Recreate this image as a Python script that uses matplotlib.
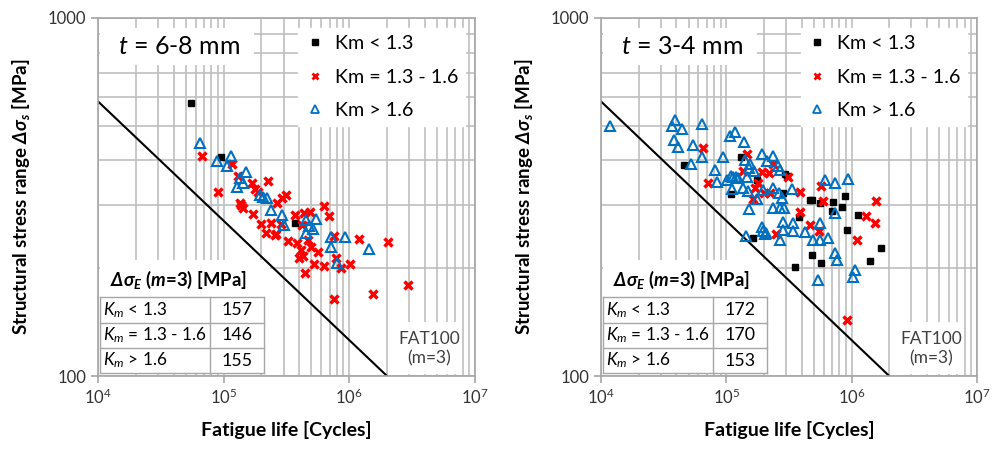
import matplotlib

matplotlib.use("Agg")
import matplotlib.pyplot as plt
import numpy as np
from matplotlib.lines import Line2D
from matplotlib.patches import Rectangle
from matplotlib.ticker import FixedLocator, NullFormatter, FixedFormatter

plt.rcParams["font.family"] = ["Lato", "DejaVu Sans"]
plt.rcParams["mathtext.fontset"] = "custom"
plt.rcParams["mathtext.rm"] = "Lato"
plt.rcParams["mathtext.it"] = "Lato:italic"
plt.rcParams["mathtext.bf"] = "Lato:bold"
plt.rcParams["mathtext.bfit"] = "Lato:italic:bold"

# ---- t = 6-8 mm ----
t68_low_n = [54600, 95300, 373000]
t68_low_s = [580, 408, 268]
t68_mid_n = [66800, 90600, 117000, 131000, 167000, 224000, 177000, 188000, 135000, 313000,
             294000, 267000, 137000, 143000, 170000, 198000, 217000, 256000, 240000, 284000,
             323000, 369000, 438000, 486000, 628000, 692000, 417000, 385000, 471000, 495000,
             412000, 425000, 397000, 559000, 526000, 628000, 444000, 753000, 753000, 1.20e6,
             2.04e6, 791000, 867000, 1.02e6, 2.91e6, 1.55e6, 260000]
t68_mid_s = [412, 327, 390, 363, 345, 351, 334, 327, 304, 320,
             314, 305, 301, 295, 283, 266, 251, 248, 267, 265,
             238, 282, 286, 288, 298, 279, 264, 235, 240, 230,
             225, 216, 213, 222, 205, 203, 194, 164, 246, 241,
             237, 213, 200, 205, 180, 169, 250]
t68_high_n = [65200, 87900, 114000, 106000, 152000, 136000, 143000, 127000, 195000, 220000,
              206000, 238000, 292000, 303000, 452000, 542000, 479000, 510000, 452000, 714000,
              714000, 802000, 923000, 1.43e6]
t68_high_s = [447, 399, 412, 386, 371, 357, 345, 338, 320, 314,
              317, 291, 282, 264, 273, 275, 262, 257, 251, 244,
              230, 207, 245, 226]

# ---- t = 3-4 mm ----
t34_low_n = [45900, 109000, 130000, 175000, 163000, 303000, 294000, 285000, 481000, 466000,
             706000, 834000, 695000, 1.12e6, 380000, 886000, 923000, 1.71e6, 481000, 566000,
             353000, 1.40e6, 560000]
t34_low_s = [388, 322, 410, 352, 243, 362, 366, 324, 310, 310,
             307, 297, 289, 281, 278, 319, 256, 228, 218, 207,
             201, 209, 304]
t34_mid_n = [65600, 71800, 146000, 137000, 180000, 169000, 163000, 235000, 192000, 220000,
             200000, 223000, 249000, 313000, 388000, 566000, 1.58e6, 594000, 1.30e6, 1.54e6,
             388000, 466000, 553000, 1.10e6, 914000]
t34_mid_s = [434, 347, 417, 374, 345, 336, 312, 390, 372, 368,
             325, 324, 249, 360, 327, 340, 309, 309, 279, 267,
             288, 264, 254, 240, 143]
t34_high_n = [11800, 39000, 36600, 44100, 63700, 38500, 41400, 53900, 63700, 52000,
              94600, 81300, 84700, 101000, 108000, 117000, 138000, 114000, 110000, 120000,
              124000, 112000, 141000, 155000, 153000, 167000, 147000, 137000, 150000, 175000,
              192000, 235000, 212000, 260000, 268000, 197000, 238000, 265000, 277000, 238000,
              268000, 289000, 283000, 285000, 153000, 192000, 207000, 144000, 333000, 613000,
              738000, 931000, 738000, 343000, 343000, 268000, 425000, 560000, 495000, 560000,
              652000, 738000, 769000, 1.06e6, 1.03e6, 536000, 195000, 205000]
t34_high_s = [500, 518, 500, 490, 506, 456, 437, 442, 410, 392,
              410, 376, 349, 352, 468, 481, 450, 360, 362, 360,
              357, 334, 401, 392, 380, 374, 360, 336, 329, 313,
              417, 412, 398, 385, 376, 331, 336, 325, 314, 294,
              294, 294, 270, 256, 292, 260, 251, 246, 334, 352,
              347, 354, 285, 267, 254, 240, 253, 267, 240, 240,
              243, 221, 211, 198, 189, 185, 254, 249]

legend_labels = ["Km < 1.3", "Km = 1.3 - 1.6", "Km > 1.6"]
table_rows = [r"$K_m$ < 1.3", r"$K_m$ = 1.3 - 1.6", r"$K_m$ > 1.6"]
t68_table = [157, 146, 155]
t34_table = [172, 170, 153]

FAT = 100
M_SLOPE = 3
N_REF = 2e6

GRID = "#bfbfbf"
RED = "#ff0000"
BLUE = "#0070c0"


def white_box(ax, x0, y0, x1, y1):
    ax.add_patch(Rectangle((x0, y0), x1 - x0, y1 - y0, transform=ax.transAxes,
                           facecolor="white", edgecolor="none", zorder=1))


def panel(ax, title, low, mid, high, table_vals):
    ax.set_xscale("log")
    ax.set_yscale("log")
    ax.set_xlim(1e4, 1e7)
    ax.set_ylim(100, 1000)
    ax.set_axisbelow(True)
    ax.grid(True, which="both", color=GRID, lw=1.2)

    ax.yaxis.set_major_locator(FixedLocator([100, 1000]))
    ax.yaxis.set_major_formatter(FixedFormatter(["100", "1000"]))
    ax.yaxis.set_minor_formatter(NullFormatter())
    ax.tick_params(which="major", length=5, width=1.2, color="#a6a6a6",
                   labelsize=12, labelcolor="#333333")
    ax.tick_params(which="minor", length=0)
    for sp in ax.spines.values():
        sp.set_color("#a6a6a6")
        sp.set_linewidth(1.2)

    fat_n = np.array([1e4, N_REF])
    fat_s = FAT * (N_REF / fat_n) ** (1 / M_SLOPE)
    ax.plot(fat_n, fat_s, color="black", lw=1.5, zorder=2)

    ax.plot(low[0], low[1], ls="none", marker="s", ms=5, color="black", zorder=3)
    ax.plot(mid[0], mid[1], ls="none", marker="x", ms=6, mew=2.5, color=RED, zorder=4)
    ax.plot(high[0], high[1], ls="none", marker="^", ms=7, mew=1.5, mfc="none",
            mec=BLUE, zorder=5)

    # title box
    white_box(ax, 0.005, 0.869, 0.415, 0.972)
    ax.text(0.215, 0.92, title, transform=ax.transAxes, fontsize=18,
            ha="center", va="center", zorder=6)

    # legend
    handles = [
        Line2D([], [], ls="none", marker="s", ms=4, color="black"),
        Line2D([], [], ls="none", marker="x", ms=4.5, mew=2, color=RED),
        Line2D([], [], ls="none", marker="^", ms=5.5, mew=1.3, mfc="none", mec=BLUE),
    ]
    leg = ax.legend(handles, legend_labels, loc="upper left", bbox_to_anchor=(0.505, 1.0),
                    fontsize=14.2, frameon=True, fancybox=False, framealpha=1,
                    facecolor="white", edgecolor="white", handlelength=1.0,
                    handletextpad=0.5, labelspacing=0.85, borderpad=0.35)
    leg.set_zorder(6)

    # FAT label
    white_box(ax, 0.795, 0.005, 0.96, 0.151)
    ax.text(0.878, 0.103, "FAT100", transform=ax.transAxes, fontsize=12.5,
            ha="center", va="center", color="#404040", zorder=6)
    ax.text(0.878, 0.05, "(m=3)", transform=ax.transAxes, fontsize=12.5,
            ha="center", va="center", color="#404040", zorder=6)

    # table
    white_box(ax, 0.005, 0.005, 0.456, 0.324)
    ax.text(0.032, 0.268, r"$\mathbfit{\Delta\sigma_E}$ ($\mathbfit{m}$=3) [MPa]",
            transform=ax.transAxes, fontsize=13.3, fontweight="bold",
            ha="left", va="center", zorder=6)
    x0, xs, x1 = 0.006, 0.298, 0.441
    ys = [0.2215, 0.149, 0.0774, 0.0092]
    tbl_kw = dict(transform=ax.transAxes, color="#a6a6a6", lw=1.0, zorder=6)
    for y in ys:
        ax.add_line(Line2D([x0, x1], [y, y], **tbl_kw))
    for x in (x0, xs, x1):
        ax.add_line(Line2D([x, x], [ys[0], ys[-1]], **tbl_kw))
    for i, (lab, val) in enumerate(zip(table_rows, table_vals)):
        yc = (ys[i] + ys[i + 1]) / 2
        ax.text(x0 + 0.008, yc, lab, transform=ax.transAxes, fontsize=12.3,
                ha="left", va="center", zorder=7)
        ax.text((xs + x1) / 2, yc, str(val), transform=ax.transAxes, fontsize=12.8,
                ha="center", va="center", zorder=7)

    ax.set_xlabel("Fatigue life [Cycles]", fontsize=14, fontweight="bold")
    ax.set_ylabel(r"Structural stress range $\mathbfit{\Delta\sigma_s}$ [MPa]",
                  fontsize=13.5, fontweight="bold")
    ax.xaxis.set_label_coords(0.5, -0.125)
    ax.yaxis.set_label_coords(-0.175, 0.5)


fig = plt.figure(figsize=(10.05, 4.5), dpi=100)
ax1 = fig.add_axes([0.0975, 0.1644, 0.375, 0.7956])
ax2 = fig.add_axes([0.598, 0.1644, 0.374, 0.7956])

panel(ax1, r"$t$ = 6-8 mm", (t68_low_n, t68_low_s), (t68_mid_n, t68_mid_s),
      (t68_high_n, t68_high_s), t68_table)
panel(ax2, r"$t$ = 3-4 mm", (t34_low_n, t34_low_s), (t34_mid_n, t34_mid_s),
      (t34_high_n, t34_high_s), t34_table)

fig.savefig("out.png", dpi=100)
